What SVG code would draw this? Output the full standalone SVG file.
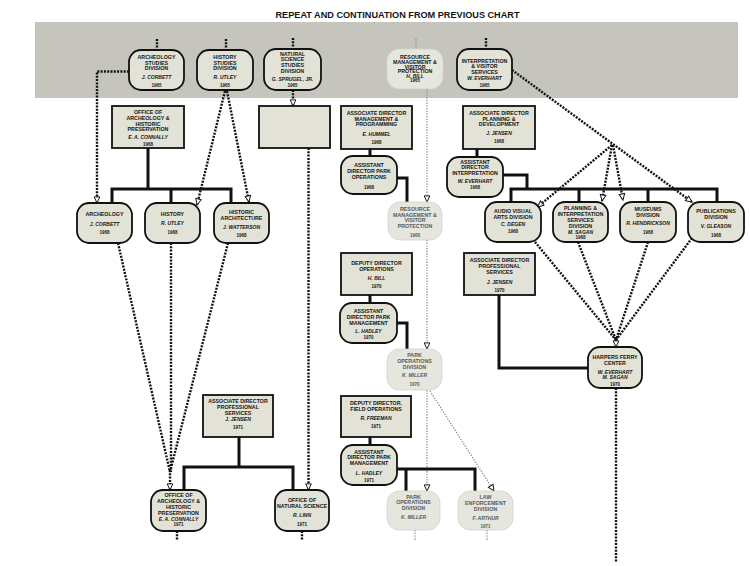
<svg xmlns="http://www.w3.org/2000/svg" width="750" height="566" viewBox="0 0 750 566">
<defs>
<style>
.n{fill:#e2e2d6;stroke:#111;stroke-width:1.8}
.f{fill:#e5e6de;stroke:#d2d3cb;stroke-width:0.8}
text{font-family:"Liberation Sans",Arial,sans-serif;font-weight:bold;font-size:5.3px;text-anchor:middle;dominant-baseline:central;fill:#151515}
.nm{font-style:italic;font-size:5px}
.yr{font-size:4.5px}
.g text{fill:#5a5a5a}
.s{fill:none;stroke:#111;stroke-width:3}
.d{fill:none;stroke:#111;stroke-width:2.4;stroke-dasharray:2 1.3}
.gd{fill:none;stroke:#8a8a8a;stroke-width:1.2;stroke-dasharray:1.4 1.3}
.title{font-size:9px;dominant-baseline:alphabetic}
</style>
<marker id="ar" viewBox="0 0 8 8" refX="7.5" refY="4" markerWidth="7" markerHeight="7" markerUnits="userSpaceOnUse" orient="auto" overflow="visible">
<path d="M0.5,0.8 L7.5,4 L0.5,7.2 Z" fill="#fff" stroke="#111" stroke-width="1.1"/>
</marker>
</defs>
<rect width="750" height="566" fill="#fff"/>
<text class="title" x="397.5" y="18" textLength="244" lengthAdjust="spacingAndGlyphs">REPEAT AND CONTINUATION FROM PREVIOUS CHART</text>
<rect x="35" y="22" width="703" height="76" fill="#c5c5bd"/>

<g id="connectors">
<path class="d" d="M157,39V50M226,39V50M293,38V49M486,38V49"/>
<path class="gd" d="M416,39V49"/>
<path class="d" d="M129,71.5H97V203" marker-end="url(#ar)"/>
<path class="d" d="M225,91L197,205" marker-end="url(#ar)"/>
<path class="d" d="M227,91L249,202" marker-end="url(#ar)"/>
<path class="d" d="M293,90V106" marker-end="url(#ar)"/>
<path class="d" d="M308.5,148V490" marker-end="url(#ar)"/>
<path class="s" d="M148,148V189M112,203V189H231V203M171,189V203"/>
<path class="d" d="M118,243L170,472M171,243V472M228,243L170,472"/>
<path class="d" d="M170,470V490" marker-end="url(#ar)"/>
<path class="s" d="M239,437V467M184,490V467H293V490"/>
<path class="s" d="M370,149V156M396,178H407V202"/>
<path class="gd" d="M427,89V202" marker-end="url(#ar)"/>
<path class="gd" d="M427,240V349" marker-end="url(#ar)"/>
<path class="s" d="M370,295V303M397,323H407V350"/>
<path class="gd" d="M427,390V491" marker-end="url(#ar)"/>
<path class="gd" d="M430,391L494,491" marker-end="url(#ar)"/>
<path class="s" d="M370,437V445M397,469H475V491M406,469V491"/>
<path class="s" d="M477,149V157M503,175H527V189M511,202V189H717V202M579,189V202M648,189V202"/>
<path class="d" d="M512,70L692,202" marker-end="url(#ar)"/>
<path class="d" d="M612,145L537.5,207" marker-end="url(#ar)"/>
<path class="d" d="M612,145L602,201" marker-end="url(#ar)"/>
<path class="d" d="M613,145L623,200" marker-end="url(#ar)"/>
<path class="d" d="M535,242L616,340M578,242L616,340M648,242L616,340M692,238L616,340"/>
<path class="d" d="M616,337V347" marker-end="url(#ar)"/>
<path class="s" d="M499,295V368H588"/>
<path class="d" d="M616,388V562"/>
<path class="d" d="M177,531V541M302,531V541"/>
<path class="gd" d="M415,530V541M487,530V541"/>
</g>

<g id="archeology-studies-division">
<rect class="n" x="129" y="50" width="55" height="40" rx="12"/>
<text x="156.5" y="57">ARCHEOLOGY</text><text x="156.5" y="62.5">STUDIES</text><text x="156.5" y="68">DIVISION</text>
<text class="nm" x="156.5" y="77">J. CORBETT</text><text class="yr" x="156.5" y="85">1965</text>
</g>
<g id="history-studies-division">
<rect class="n" x="197" y="50" width="56" height="40" rx="12"/>
<text x="225" y="57">HISTORY</text><text x="225" y="62.5">STUDIES</text><text x="225" y="68">DIVISION</text>
<text class="nm" x="225" y="77">R. UTLEY</text><text class="yr" x="225" y="85">1965</text>
</g>
<g id="natural-science-studies-division">
<rect class="n" x="264" y="49" width="57" height="41" rx="12"/>
<text x="292.5" y="53.5">NATURAL</text><text x="292.5" y="59">SCIENCE</text><text x="292.5" y="65">STUDIES</text><text x="292.5" y="71">DIVISION</text>
<text class="nm" x="292.5" y="79">G. SPRUGEL, JR.</text><text class="yr" x="292.5" y="85.5">1965</text>
</g>
<g id="resource-management-1965">
<rect class="f" x="387" y="49" width="56" height="40" rx="12"/>
<text x="415" y="57">RESOURCE</text><text x="415" y="62">MANAGEMENT &amp;</text><text x="415" y="66.7">VISITOR</text><text x="415" y="71.3">PROTECTION</text>
<text class="nm" x="415" y="75.8">H. BILL</text><text class="yr" x="415" y="80">1965</text>
</g>
<g id="interpretation-visitor-services">
<rect class="n" x="457" y="49" width="55" height="41" rx="12"/>
<text x="484.5" y="60.7">INTERPRETATION</text><text x="484.5" y="66.3">&amp; VISITOR</text><text x="484.5" y="71.7">SERVICES</text>
<text class="nm" x="484.5" y="78">W. EVERHART</text><text class="yr" x="484.5" y="85.7">1965</text>
</g>

<g id="office-archeology-1968">
<rect class="n" x="112" y="106" width="72" height="42"/>
<text x="148" y="112">OFFICE OF</text><text x="148" y="118">ARCHEOLOGY &amp;</text><text x="148" y="123.7">HISTORIC</text><text x="148" y="129.3">PRESERVATION</text>
<text class="nm" x="148" y="136.7">E. A. CONNALLY</text><text class="yr" x="148" y="144">1968</text>
</g>
<g id="unnamed-box">
<rect class="n" x="259" y="106" width="71" height="42"/>
</g>
<g id="assoc-director-management-programming">
<rect class="n" x="341" y="106" width="71" height="43"/>
<text x="376.5" y="113.3">ASSOCIATE DIRECTOR</text><text x="376.5" y="119">MANAGEMENT &amp;</text><text x="376.5" y="124.3">PROGRAMMING</text>
<text class="nm" x="376.5" y="133.7">E. HUMMEL</text><text class="yr" x="376.5" y="142.3">1968</text>
</g>
<g id="asst-director-park-operations">
<rect class="n" x="341" y="156" width="56" height="38" rx="12"/>
<text x="369" y="165.3">ASSISTANT</text><text x="369" y="171">DIRECTOR PARK</text><text x="369" y="176.7">OPERATIONS</text>
<text class="yr" x="369" y="187.3">1968</text>
</g>
<g id="assoc-director-planning-development">
<rect class="n" x="463" y="106" width="72" height="43"/>
<text x="499" y="113.3">ASSOCIATE DIRECTOR</text><text x="499" y="118.7">PLANNING &amp;</text><text x="499" y="124.3">DEVELOPMENT</text>
<text class="nm" x="499" y="133.3">J. JENSEN</text><text class="yr" x="499" y="141.7">1968</text>
</g>
<g id="asst-director-interpretation">
<rect class="n" x="447" y="157" width="56" height="40" rx="12"/>
<text x="475" y="161.7">ASSISTANT</text><text x="475" y="167.3">DIRECTOR</text><text x="475" y="173.3">INTERPRETATION</text>
<text class="nm" x="475" y="180.7">W. EVERHART</text><text class="yr" x="475" y="187.3">1968</text>
</g>

<g id="archeology-1968">
<rect class="n" x="77" y="203" width="55" height="40" rx="12"/>
<text x="104.5" y="214.3">ARCHEOLOGY</text><text class="nm" x="104.5" y="223.7">J. CORBETT</text><text class="yr" x="104.5" y="232">1968</text>
</g>
<g id="history-1968">
<rect class="n" x="145" y="203" width="55" height="40" rx="12"/>
<text x="172.5" y="214">HISTORY</text><text class="nm" x="172.5" y="223.3">R. UTLEY</text><text class="yr" x="172.5" y="232">1968</text>
</g>
<g id="historic-architecture-1968">
<rect class="n" x="214" y="203" width="55" height="40" rx="12"/>
<text x="241.5" y="211.7">HISTORIC</text><text x="241.5" y="217.7">ARCHITECTURE</text>
<text class="nm" x="241.5" y="226.7">J. WATTERSON</text><text class="yr" x="241.5" y="235.3">1968</text>
</g>
<g id="resource-management-1968" class="g">
<rect class="f" x="388" y="202" width="54" height="38" rx="12"/>
<text x="415" y="209">RESOURCE</text><text x="415" y="214.7">MANAGEMENT &amp;</text><text x="415" y="220.3">VISITOR</text><text x="415" y="226">PROTECTION</text>
<text class="yr" x="415" y="235.3">1968</text>
</g>
<g id="audio-visual-arts-division">
<rect class="n" x="485" y="202" width="56" height="40" rx="12"/>
<text x="513" y="210.7">AUDIO VISUAL</text><text x="513" y="216.7">ARTS DIVISION</text>
<text class="nm" x="513" y="224">C. DEGEN</text><text class="yr" x="513" y="231.7">1968</text>
</g>
<g id="planning-interpretation-services-division">
<rect class="n" x="553" y="202" width="55" height="40" rx="12"/>
<text x="580.5" y="208.3">PLANNING &amp;</text><text x="580.5" y="214">INTERPRETATION</text><text x="580.5" y="220">SERVICES</text><text x="580.5" y="225.7">DIVISION</text>
<text class="nm" x="580.5" y="231.5">M. SAGAN</text><text class="yr" x="580.5" y="237.5">1968</text>
</g>
<g id="museums-division">
<rect class="n" x="620" y="202" width="56" height="40" rx="12"/>
<text x="648" y="209">MUSEUMS</text><text x="648" y="215">DIVISION</text>
<text class="nm" x="648" y="223.3">R. HENDRICKSON</text><text class="yr" x="648" y="232.7">1968</text>
</g>
<g id="publications-division">
<rect class="n" x="688" y="202" width="56" height="40" rx="12"/>
<text x="716" y="211">PUBLICATIONS</text><text x="716" y="216.7">DIVISION</text>
<text class="nm" x="716" y="226">V. GLEASON</text><text class="yr" x="716" y="235">1968</text>
</g>

<g id="deputy-director-operations">
<rect class="n" x="341" y="253" width="71" height="42"/>
<text x="376.5" y="263.3">DEPUTY DIRECTOR</text><text x="376.5" y="268.7">OPERATIONS</text>
<text class="nm" x="376.5" y="277.7">H. BILL</text><text class="yr" x="376.5" y="286.7">1970</text>
</g>
<g id="asst-director-park-management-1970">
<rect class="n" x="340" y="303" width="57" height="40" rx="12"/>
<text x="368.5" y="311">ASSISTANT</text><text x="368.5" y="317.3">DIRECTOR PARK</text><text x="368.5" y="323.3">MANAGEMENT</text>
<text class="nm" x="368.5" y="330.7">L. HADLEY</text><text class="yr" x="368.5" y="337.3">1970</text>
</g>
<g id="park-operations-division-1970" class="g">
<rect class="f" x="387" y="349" width="55" height="41" rx="12"/>
<text x="414.5" y="354.5">PARK</text><text x="414.5" y="360.7">OPERATIONS</text><text x="414.5" y="367">DIVISION</text>
<text class="nm" x="414.5" y="375.3">K. MILLER</text><text class="yr" x="414.5" y="384">1970</text>
</g>
<g id="assoc-director-professional-services-1970">
<rect class="n" x="464" y="253" width="71" height="42"/>
<text x="499.5" y="260">ASSOCIATE DIRECTOR</text><text x="499.5" y="266">PROFESSIONAL</text><text x="499.5" y="271.7">SERVICES</text>
<text class="nm" x="499.5" y="282.3">J. JENSEN</text><text class="yr" x="499.5" y="290.7">1970</text>
</g>
<g id="harpers-ferry-center">
<rect class="n" x="588" y="347" width="54" height="41" rx="12"/>
<text x="615" y="357.3">HARPERS FERRY</text><text x="615" y="362.7">CENTER</text>
<text class="nm" x="615" y="371.7">W. EVERHART</text><text class="nm" x="615" y="377.3">M. SAGAN</text><text class="yr" x="615" y="384">1970</text>
</g>

<g id="deputy-director-field-operations">
<rect class="n" x="341" y="396" width="70" height="41"/>
<text x="376" y="403.3">DEPUTY DIRECTOR,</text><text x="376" y="409">FIELD OPERATIONS</text>
<text class="nm" x="376" y="417.7">R. FREEMAN</text><text class="yr" x="376" y="426.7">1971</text>
</g>
<g id="asst-director-park-management-1971">
<rect class="n" x="341" y="445" width="56" height="40" rx="12"/>
<text x="369" y="451.7">ASSISTANT</text><text x="369" y="457.3">DIRECTOR PARK</text><text x="369" y="463.3">MANAGEMENT</text>
<text class="nm" x="369" y="472.7">L. HADLEY</text><text class="yr" x="369" y="480">1971</text>
</g>
<g id="park-operations-division-1971" class="g">
<rect class="f" x="387" y="491" width="53" height="39" rx="12"/>
<text x="413.5" y="496.7">PARK</text><text x="413.5" y="502.3">OPERATIONS</text><text x="413.5" y="508">DIVISION</text>
<text class="nm" x="413.5" y="516.7">K. MILLER</text>
</g>
<g id="law-enforcement-division" class="g">
<rect class="f" x="458" y="491" width="55" height="39" rx="12"/>
<text x="485.5" y="497.3">LAW</text><text x="485.5" y="503">ENFORCEMENT</text><text x="485.5" y="509">DIVISION</text>
<text class="nm" x="485.5" y="517.7">F. ARTHUR</text><text class="yr" x="485.5" y="526.5">1971</text>
</g>
<g id="assoc-director-professional-services-1971">
<rect class="n" x="203" y="395" width="70" height="42"/>
<text x="238" y="400.7">ASSOCIATE DIRECTOR</text><text x="238" y="406.7">PROFESSIONAL</text><text x="238" y="412.7">SERVICES</text>
<text class="nm" x="238" y="418.7">J. JENSEN</text><text class="yr" x="238" y="427.3">1971</text>
</g>
<g id="office-archeology-1971">
<rect class="n" x="151" y="490" width="55" height="41" rx="12"/>
<text x="178.5" y="495">OFFICE OF</text><text x="178.5" y="500.7">ARCHEOLOGY &amp;</text><text x="178.5" y="506.7">HISTORIC</text><text x="178.5" y="512.7">PRESERVATION</text>
<text class="nm" x="178.5" y="518.5">E. A. CONNALLY</text><text class="yr" x="178.5" y="524.8">1971</text>
</g>
<g id="office-natural-science">
<rect class="n" x="275" y="490" width="54" height="41" rx="12"/>
<text x="302" y="500">OFFICE OF</text><text x="302" y="506">NATURAL SCIENCE</text>
<text class="nm" x="302" y="515.3">R. LINN</text><text class="yr" x="302" y="524">1971</text>
</g>
</svg>
